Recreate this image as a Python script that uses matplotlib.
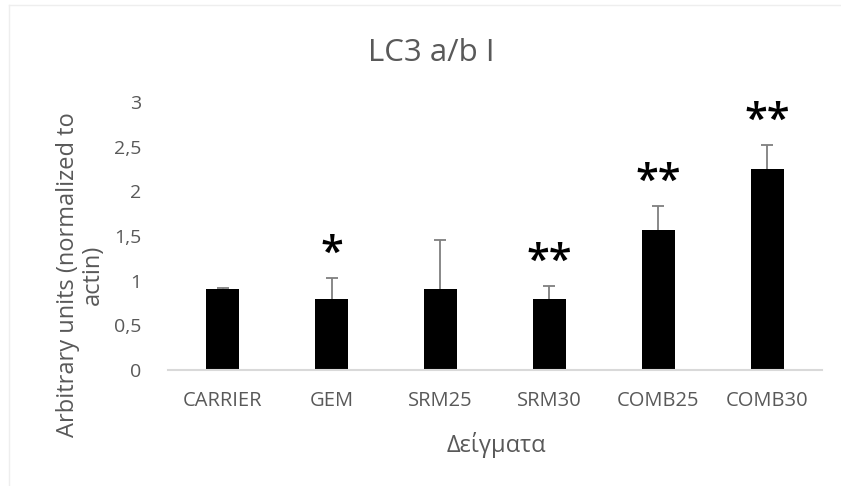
import matplotlib
matplotlib.use("Agg")
import matplotlib.pyplot as plt
from matplotlib.lines import Line2D

categories = ["CARRIER", "GEM", "SRM25", "SRM30", "COMB25", "COMB30"]
values = [0.91, 0.80, 0.91, 0.80, 1.57, 2.25]
errors = [0.01, 0.23, 0.54, 0.14, 0.27, 0.27]
stars = ["", "*", "", "**", "**", "**"]
yticks = [0, 0.5, 1, 1.5, 2, 2.5, 3]
ytick_labels = ["0", "0,5", "1", "1,5", "2", "2,5", "3"]

FONT = ["Open Sans", "DejaVu Sans"]
GREY = "#595959"
W, H = 841, 486

fig = plt.figure(figsize=(W / 100, H / 100), dpi=100)
ax = fig.add_axes([168 / W, 1 - 370 / H, (822 - 168) / W, (370 - 102) / H])

x = list(range(len(categories)))
ax.bar(x, values, width=0.31, color="black", zorder=2)
_, caps, _ = ax.errorbar(x, values, yerr=[[0] * len(errors), errors], fmt="none",
                         ecolor="#7f7f7f", elinewidth=1.3, capsize=4.5,
                         capthick=1.3, zorder=1)
caps[0].set_visible(False)

for xi, v, e, s in zip(x, values, errors, stars):
    if s:
        ax.text(xi, v + e + 0.26, s, ha="center", va="center", fontsize=30,
                fontweight="semibold", family=FONT, color="black")

ax.set_xlim(-0.5, len(categories) - 0.5)
ax.set_ylim(0, 3)
ax.set_yticks(yticks)
ax.set_yticklabels(ytick_labels, family=FONT, fontsize=14, color=GREY)
ax.set_xticks(x)
ax.set_xticklabels(categories, family=FONT, fontsize=14.5, color=GREY)
ax.tick_params(axis="both", length=0)
ax.tick_params(axis="y", pad=19)
ax.tick_params(axis="x", pad=15)

for side in ["top", "right", "left"]:
    ax.spines[side].set_visible(False)
ax.spines["bottom"].set_color("#d9d9d9")
ax.spines["bottom"].set_linewidth(1.5)

# chart title, axis titles
fig.text(431 / W, 1 - 61 / H, "LC3 a/b I", family=FONT, fontsize=22.5,
         color=GREY, ha="center", va="baseline")
fig.text(496 / W, 1 - 452 / H, "Δείγματα", family=FONT, fontsize=17,
         color=GREY, ha="center", va="baseline")
fig.text(80 / W, 1 - 275 / H, "Arbitrary units (normalized to\nactin)",
         family=FONT, fontsize=17, color=GREY, rotation=90, ha="center",
         va="center", multialignment="center", linespacing=1.05)

# faint chart-area border along top and left edges
fig.add_artist(Line2D([9 / W, 1], [1 - 5 / H, 1 - 5 / H],
                      transform=fig.transFigure, color="#eeeeee", lw=1))
fig.add_artist(Line2D([9 / W, 9 / W], [0, 1 - 5 / H],
                      transform=fig.transFigure, color="#eeeeee", lw=1))

fig.savefig("out.png", dpi=100, facecolor="white")
